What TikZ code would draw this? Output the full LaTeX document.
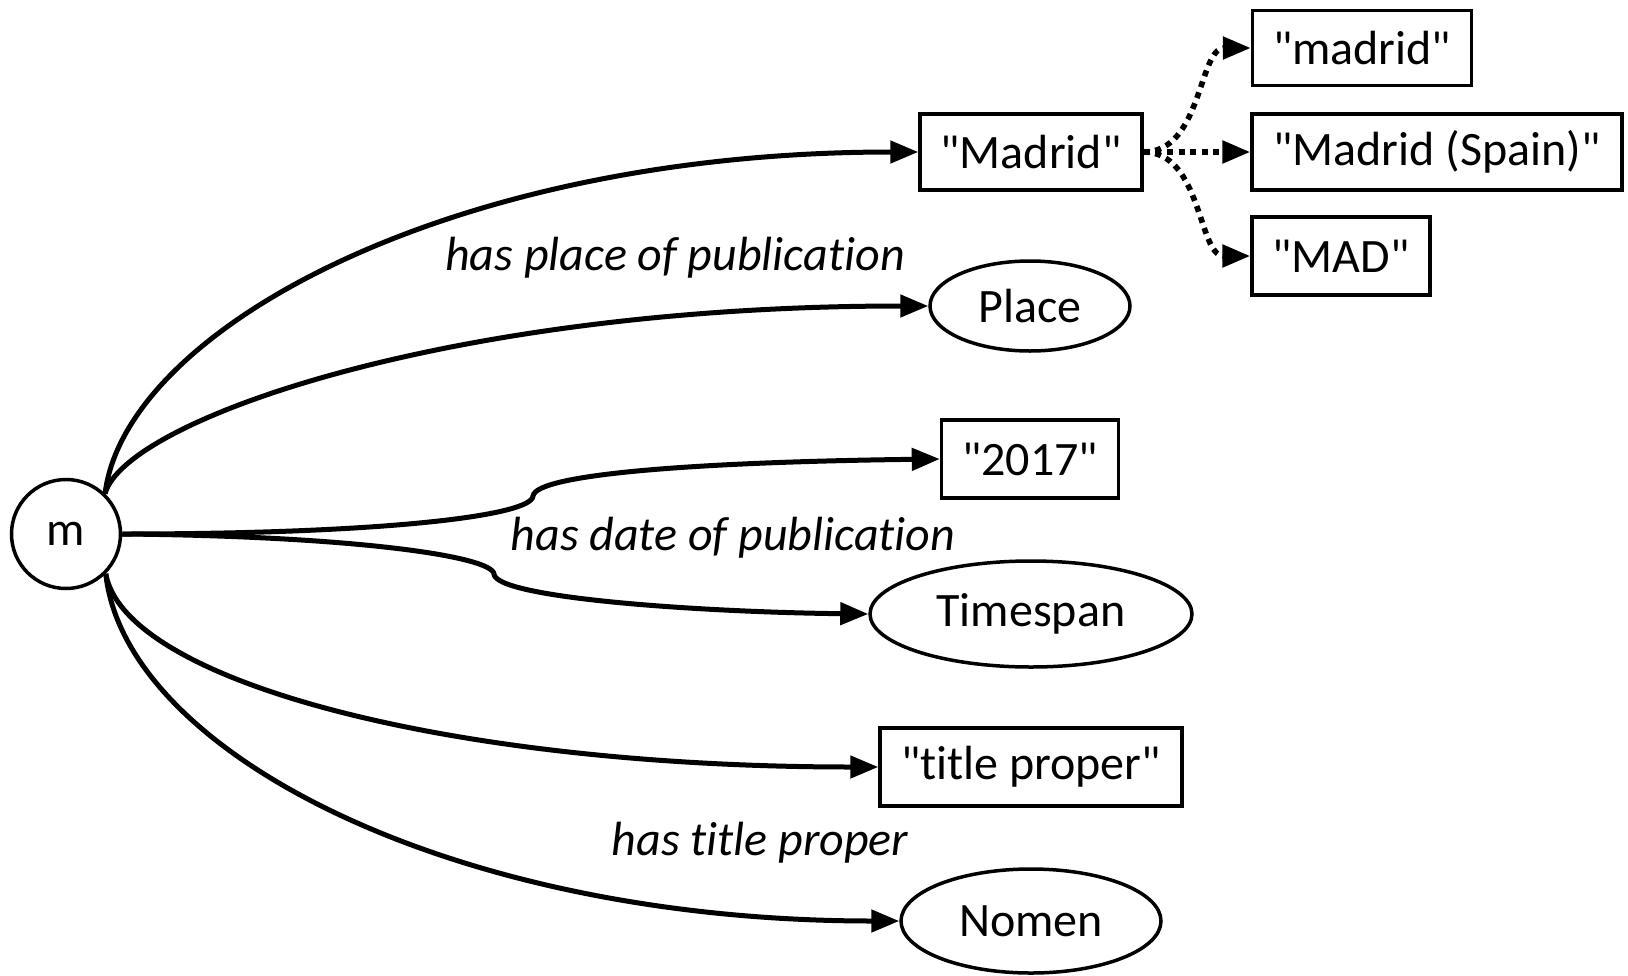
\documentclass[tikz,border=0pt]{standalone}
\usepackage{fontspec}
\setmainfont{Carlito}[Ligatures={TeXOff,CommonOff}]
\usepackage{tikz}
\usetikzlibrary{arrows.meta,shapes.geometric}

\begin{document}
\begin{tikzpicture}[x=0.5pt, y=-0.5pt, >={Triangle[length=14pt,width=11pt]},
		every node/.style={font=\fontsize{24}{29}\selectfont, inner sep=0pt},
		lit/.style={draw, rectangle, line width=1.75pt, minimum height=38pt},
		cls/.style={draw, ellipse, line width=1.75pt},
		rel/.style={line width=2.5pt, ->},
		alt/.style={line width=2.8pt, ->, dash pattern=on 3pt off 2.8pt},
		prop/.style={font=\fontsize{24}{29}\selectfont\itshape}]
		\useasboundingbox (0,0) rectangle (1628,975);

		\node[draw, circle, line width=1.75pt, minimum size=54.5pt] (m) at (66,534) {m};

		\node[lit, minimum width=111pt] (madrid) at (1031,152) {"Madrid"};
		\node[lit, minimum width=109.5pt, minimum height=37.5pt] (lower) at (1362,48) {"madrid"};
		\node[lit, minimum width=185pt] (spain) at (1437,152) {"Madrid (Spain)"};
		\node[lit, minimum width=89pt, minimum height=39pt] (mad) at (1341,256) {"MAD"};
		\node[cls, minimum width=100pt, minimum height=45pt] (place) at (1030,306) {Place};
		\node[lit, minimum width=88.5pt, minimum height=39pt] (year) at (1030,459) {"2017"};
		\node[cls, minimum width=161pt, minimum height=53pt] (timespan) at (1031,614) {Timespan};
		\node[lit, minimum width=151pt, minimum height=39pt] (title) at (1031,767) {"title proper"};
		\node[cls, minimum width=130pt, minimum height=52pt] (nomen) at (1031,921) {Nomen};

		\node[prop] (lplace) at (675,258) {has place of publication};
		\node[prop] (ldate) at (733,538) {has date of publication};
		\node[prop] (ltitle) at (760,843) {has title proper};

		\coordinate (k1) at (533,496);
		\coordinate (k2) at (494,574);

		% upper pair
		\draw[rel] (m.46) .. controls +(20,-163) and +(-470,0) .. (madrid.west);
		\draw[rel] (m.46) .. controls +(20,-73) and +(-480,0) .. (place.west);
		% middle pair, with the little kink
		\draw[rel] (m.east) .. controls +(259,0) and +(-1,20) .. (k1)
			.. controls +(3,-22) and +(-242,3) .. (year.west);
		\draw[rel] (m.east) .. controls +(229,2) and +(-2,-18) .. (k2)
			.. controls +(2,24) and +(-170,-2) .. (timespan.west);
		% lower pair
		\draw[rel] (m.-45) .. controls +(19,107) and +(-430,0) .. (title.west);
		\draw[rel] (m.-45) .. controls +(19,177) and +(-451,0) .. (nomen.west);

		% variant forms
		\draw[alt] (madrid.east) .. controls +(58,0) and +(-52,0) .. (lower.west);
		\draw[alt] (madrid.east) -- (spain.west);
		\draw[alt] (madrid.east) .. controls +(58,0) and +(-52,0) .. (mad.west);
	\end{tikzpicture}
\end{document}
